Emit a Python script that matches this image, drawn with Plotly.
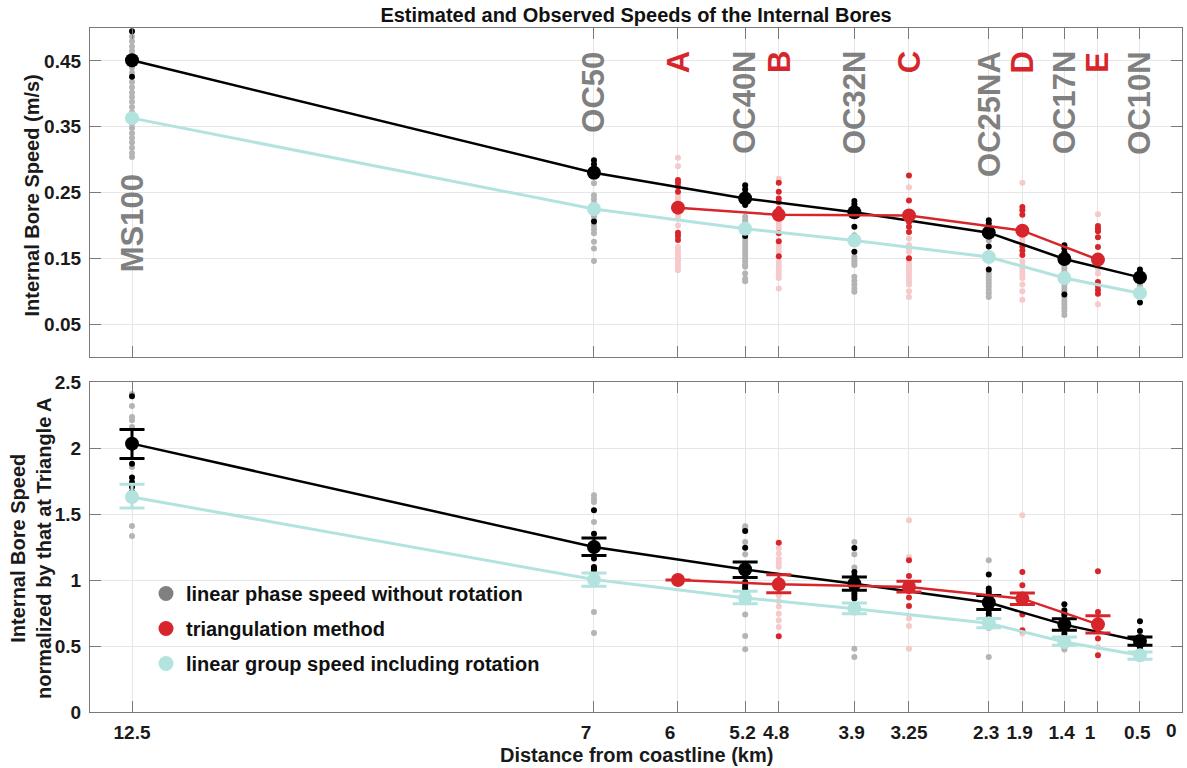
import plotly.graph_objects as go

# ---------------- data ----------------
dist_moor = [12.5, 7, 5.2, 3.9, 2.3, 1.4, 0.5]
moor_names = ["MS100", "OC50", "OC40N", "OC32N", "OC25NA", "OC17N", "OC10N"]
dist_tri = [6, 4.8, 3.25, 1.9, 1]
tri_names = ["A", "B", "C", "D", "E"]

x_tickvals = [12.5, 7, 6, 5.2, 4.8, 3.9, 3.25, 2.3, 1.9, 1.4, 1, 0.5, 0]
x_ticktext = ["12.5", "7", "6", "5.2", "4.8", "3.9", "3.25", "2.3", "1.9", "1.4", "1", "0.5", "0"]

# top panel: station means (m/s)
phase_mean = [0.451, 0.280, 0.241, 0.220, 0.189, 0.149, 0.121]
group_mean = [0.363, 0.225, 0.195, 0.177, 0.152, 0.120, 0.097]
tri_mean = [0.227, 0.216, 0.215, 0.192, 0.148]

# top panel: individual estimates
top_phase_dots = {
    12.5: [0.495, 0.455, 0.445, 0.426],
    7: [0.299, 0.293, 0.287, 0.283, 0.206],
    5.2: [0.261, 0.255, 0.249, 0.243, 0.236, 0.231, 0.184],
    3.9: [0.237, 0.232, 0.227, 0.222, 0.198, 0.160],
    2.3: [0.208, 0.203, 0.197, 0.190, 0.168, 0.133],
    1.4: [0.170, 0.165, 0.159, 0.153, 0.095],
    0.5: [0.133, 0.128, 0.124, 0.083],
}
top_group_dots = {
    12.5: [0.487, 0.480, 0.472, 0.465, 0.458, 0.440, 0.432, 0.418, 0.410, 0.402, 0.395, 0.388,
           0.380, 0.372, 0.365, 0.355, 0.348, 0.340, 0.333, 0.326, 0.318, 0.310, 0.304],
    7: [0.264, 0.246, 0.240, 0.234, 0.228, 0.220, 0.214, 0.208, 0.200, 0.194, 0.188, 0.175, 0.165, 0.146],
    5.2: [0.213, 0.208, 0.203, 0.198, 0.180, 0.175, 0.170, 0.165, 0.160, 0.155, 0.150, 0.145, 0.140,
          0.137, 0.127, 0.119, 0.115],
    3.9: [0.185, 0.180, 0.152, 0.147, 0.143, 0.140, 0.122, 0.116, 0.110, 0.104, 0.099],
    2.3: [0.177, 0.127, 0.122, 0.117, 0.112, 0.107, 0.102, 0.097, 0.091],
    1.4: [0.147, 0.140, 0.135, 0.130, 0.125, 0.115, 0.110, 0.105, 0.100, 0.090, 0.085, 0.080, 0.075,
          0.070, 0.064],
    0.5: [0.109, 0.100],
}
top_tri_dots = {
    6: [0.269, 0.265, 0.259, 0.251, 0.189, 0.184, 0.178],
    4.8: [0.265, 0.251, 0.241, 0.235, 0.225, 0.188, 0.176, 0.153],
    3.25: [0.276, 0.238, 0.205, 0.198, 0.190, 0.150],
    1.9: [0.228, 0.223, 0.216, 0.168, 0.162, 0.155],
    1: [0.199, 0.195, 0.191, 0.182, 0.167, 0.114, 0.108, 0.102, 0.096],
}
top_tri_weak_dots = {
    6: [0.303, 0.290, 0.245, 0.240, 0.215, 0.210, 0.200, 0.167, 0.162, 0.157, 0.152, 0.147, 0.142, 0.137, 0.132],
    4.8: [0.271, 0.210, 0.205, 0.200, 0.195, 0.170, 0.165, 0.160, 0.145, 0.140, 0.135, 0.130, 0.125, 0.120, 0.104],
    3.25: [0.258, 0.180, 0.170, 0.165, 0.160, 0.145, 0.140, 0.135, 0.130, 0.125, 0.120, 0.115, 0.110, 0.100, 0.091],
    1.9: [0.265, 0.185, 0.180, 0.175, 0.145, 0.140, 0.135, 0.130, 0.125, 0.120, 0.110, 0.100, 0.087],
    1: [0.217, 0.140, 0.134, 0.127, 0.080],
}

# bottom panel: normalized means and error bars
phase_norm = [2.033, 1.250, 1.079, 0.972, 0.829, 0.662, 0.538]
phase_err_plus = [0.107, 0.068, 0.057, 0.051, 0.053, 0.045, 0.030]
phase_err_minus = [0.113, 0.065, 0.061, 0.050, 0.053, 0.043, 0.033]
group_norm = [1.629, 1.003, 0.864, 0.783, 0.672, 0.530, 0.430]
group_err_plus = [0.096, 0.050, 0.050, 0.043, 0.036, 0.038, 0.025]
group_err_minus = [0.084, 0.051, 0.043, 0.038, 0.033, 0.025, 0.031]
tri_norm = [1.000, 0.967, 0.947, 0.859, 0.664]
tri_err_plus = [0.0, 0.073, 0.043, 0.043, 0.066]
tri_err_minus = [0.0, 0.063, 0.038, 0.045, 0.065]

bot_phase_dots = {
    12.5: [2.392, 1.880, 1.776, 1.740, 1.705, 1.667],
    7: [1.528, 1.351, 1.162, 1.098, 1.085, 1.073],
    5.2: [1.371, 1.245, 0.985, 0.960, 0.940, 0.922],
    3.9: [1.243, 1.060, 1.030, 0.940, 0.900, 0.880, 0.859],
    2.3: [1.041, 0.935, 0.915, 0.895, 0.871, 0.770, 0.745, 0.720],
    1.4: [0.816, 0.770, 0.750, 0.733, 0.594, 0.570, 0.550, 0.530],
    0.5: [0.687, 0.614, 0.488, 0.470],
}
bot_group_dots = {
    12.5: [2.410, 2.318, 2.235, 2.210, 2.160, 1.856, 1.410, 1.333],
    7: [1.642, 1.615, 1.590, 1.440, 0.998, 0.758, 0.598],
    5.2: [1.407, 1.389, 1.288, 1.195, 0.884, 0.865, 0.846, 0.738, 0.576, 0.475],
    3.9: [1.288, 1.195, 1.094, 0.795, 0.758, 0.480, 0.417],
    2.3: [1.149, 0.708, 0.636, 0.417],
    1.4: [0.490, 0.473],
    0.5: [0.440],
}
bot_tri_dots = {
    4.8: [1.283, 0.573],
    3.25: [1.149, 1.030, 0.867, 0.803],
    1.9: [1.061, 0.960, 0.738, 0.619],
    1: [1.066, 0.758, 0.556, 0.429],
}
bot_tri_weak_dots = {
    4.8: [1.240, 1.200, 1.160, 1.130, 1.100, 0.884, 0.840, 0.800, 0.745, 0.695, 0.644],
    3.25: [1.452, 1.174, 0.708, 0.652, 0.480],
    1.9: [1.490, 0.594],
    1: [0.492],
}

# ---------------- styling ----------------
BLACK = "#000000"
GRAY_DOT = "#b4b4b4"
GRAY_TXT = "#808080"
RED = "#d7262b"
PINK = "#f6c9cb"
CYAN = "#b3e3de"
FONT = "Liberation Sans"
TXT = "#1a1a1a"


def flat(d):
    xs, ys = [], []
    for k, vals in d.items():
        for v in vals:
            xs.append(k)
            ys.append(v)
    return xs, ys


fig = go.Figure()


def dots(d, color, xa, ya):
    xs, ys = flat(d)
    fig.add_trace(go.Scatter(x=xs, y=ys, mode="markers", xaxis=xa, yaxis=ya, showlegend=False,
                             hoverinfo="skip",
                             marker=dict(size=6, color=color, line=dict(width=0))))


# top panel dots
dots(top_group_dots, GRAY_DOT, "x2", "y2")
dots(top_phase_dots, BLACK, "x2", "y2")
dots(top_tri_weak_dots, PINK, "x2", "y2")
dots(top_tri_dots, RED, "x2", "y2")
# top panel means
for xs, ys, col, lw in [(dist_moor, group_mean, CYAN, 3), (dist_moor, phase_mean, BLACK, 2.5),
                        (dist_tri, tri_mean, RED, 2.5)]:
    fig.add_trace(go.Scatter(x=xs, y=ys, mode="lines+markers", xaxis="x2", yaxis="y2",
                             showlegend=False, line=dict(color=col, width=lw),
                             marker=dict(size=14, color=col)))

# bottom panel dots
dots(bot_group_dots, GRAY_DOT, "x", "y")
dots(bot_phase_dots, BLACK, "x", "y")
dots(bot_tri_weak_dots, PINK, "x", "y")
dots(bot_tri_dots, RED, "x", "y")
# bottom panel means with error bars
for xs, ys, ep, em, col, lw in [(dist_moor, group_norm, group_err_plus, group_err_minus, CYAN, 3),
                                (dist_moor, phase_norm, phase_err_plus, phase_err_minus, BLACK, 2.5),
                                (dist_tri, tri_norm, tri_err_plus, tri_err_minus, RED, 2.5)]:
    fig.add_trace(go.Scatter(x=xs, y=ys, mode="lines+markers", xaxis="x", yaxis="y",
                             showlegend=False, line=dict(color=col, width=lw),
                             marker=dict(size=14, color=col),
                             error_y=dict(type="data", symmetric=False, array=ep, arrayminus=em,
                                          color=col, thickness=3, width=12.5)))

# legend entries
for name, col, grp in [("linear phase speed without rotation", GRAY_TXT, "g1"),
                       ("triangulation method", RED, "g2"),
                       ("linear group speed including rotation", CYAN, "g3")]:
    fig.add_trace(go.Scatter(x=[None], y=[None], mode="markers", name=name, legendgroup=grp,
                             xaxis="x", yaxis="y", marker=dict(size=15, color=col)))

# station labels
annotations = []
for d, n in zip(dist_moor, moor_names):
    annotations.append(dict(x=d, y=0.2807 if n == "MS100" else 0.4678, xref="x2", yref="y2",
                            text=n, textangle=-90, showarrow=False, xanchor="center", yanchor="top",
                            font=dict(family=FONT, size=31, color=GRAY_TXT, weight="bold")))
for d, n in zip(dist_tri, tri_names):
    annotations.append(dict(x=d, y=0.4678, xref="x2", yref="y2", text=n, textangle=-90,
                            showarrow=False, xanchor="center", yanchor="top",
                            font=dict(family=FONT, size=31, color=RED, weight="bold")))

# axis titles as annotations (pixel-placed)
W, H = 1187, 768
ML, MR, MT, MB = 90, 5, 28, 56
PW, PH = W - ML - MR, H - MT - MB


def px_x(p):
    return (p - ML) / PW


def px_y(p):
    return (H - MB - p) / PH


annotations.append(dict(x=px_x(31.5), y=px_y(196), xref="paper", yref="paper",
                        text="Internal Bore Speed (m/s)", textangle=-90, showarrow=False,
                        xanchor="center", yanchor="middle",
                        font=dict(family=FONT, size=20, color=TXT, weight="bold")))
annotations.append(dict(x=px_x(31), y=px_y(548), xref="paper", yref="paper",
                        text="Internal Bore Speed<br>normalized by that at Triangle A", textangle=-90,
                        showarrow=False, xanchor="center", yanchor="middle",
                        font=dict(family=FONT, size=20, color=TXT, weight="bold")))
annotations.append(dict(x=0.5, y=px_y(755), xref="paper", yref="paper",
                        text="Distance from coastline (km)", showarrow=False,
                        xanchor="center", yanchor="middle",
                        font=dict(family=FONT, size=20, color=TXT, weight="bold")))

axis_common = dict(showline=True, linecolor="#7a7a7a", linewidth=1.2, mirror="ticks",
                   ticks="inside", ticklen=11, tickcolor="#7a7a7a", tickwidth=1,
                   showgrid=True, gridcolor="#e6e6e6", gridwidth=1, zeroline=False,
                   tickangle=0, ticklabeloverflow="allow", automargin=False,
                   tickfont=dict(family=FONT, size=19, color=TXT, weight="bold"))

pad = "\u00a0"
# the last label ("0") sits at the very edge: draw it as an annotation nudged inwards
x_ticktext_padded = [t + pad * (4 - len(t)) for t in x_ticktext[:-1]] + [""]
annotations.append(dict(x=x_tickvals[-1], y=px_y(731), xref="x", yref="paper",
                        text=x_ticktext[-1], showarrow=False, xanchor="center", yanchor="middle",
                        xshift=-10,
                        font=dict(family=FONT, size=19, color=TXT, weight="bold")))

top_bottom = px_y(357)
bot_top = px_y(382)
x_range = [13, -0.0005]

fig.update_layout(
    width=W, height=H,
    margin=dict(l=ML, r=MR, t=MT, b=MB, autoexpand=False),
    paper_bgcolor="white", plot_bgcolor="white",
    font=dict(family=FONT, size=19, color=TXT),
    title=dict(text="Estimated and Observed Speeds of the Internal Bores", x=0.5, xref="paper",
               xanchor="center", y=1 - 15 / H, yanchor="middle",
               font=dict(family=FONT, size=20, color="#111111", weight="bold")),
    xaxis=dict(range=x_range, tickvals=x_tickvals, ticktext=x_ticktext_padded, anchor="y",
               ticklabelstandoff=3, **axis_common),
    yaxis=dict(range=[0, 2.5], domain=[0, bot_top], tickvals=[0, 0.5, 1, 1.5, 2, 2.5],
               ticktext=["0", "0.5", "1", "1.5", "2", "2.5"], anchor="x", ticklabelstandoff=4,
               **axis_common),
    xaxis2=dict(range=x_range, tickvals=x_tickvals, showticklabels=False, anchor="y2",
                matches="x", **axis_common),
    yaxis2=dict(range=[0, 0.5], domain=[top_bottom, 1], tickvals=[0.05, 0.15, 0.25, 0.35, 0.45],
                ticktext=["0.05", "0.15", "0.25", "0.35", "0.45"], anchor="x2", ticklabelstandoff=4,
                **axis_common),
    legend=dict(x=px_x(146), y=px_y(574), xanchor="left", yanchor="top", bgcolor="rgba(0,0,0,0)",
                borderwidth=0, tracegroupgap=6,
                font=dict(family=FONT, size=20, color="#111111", weight="bold")),
    annotations=annotations,
    showlegend=True,
)

fig.write_html("out.html")
